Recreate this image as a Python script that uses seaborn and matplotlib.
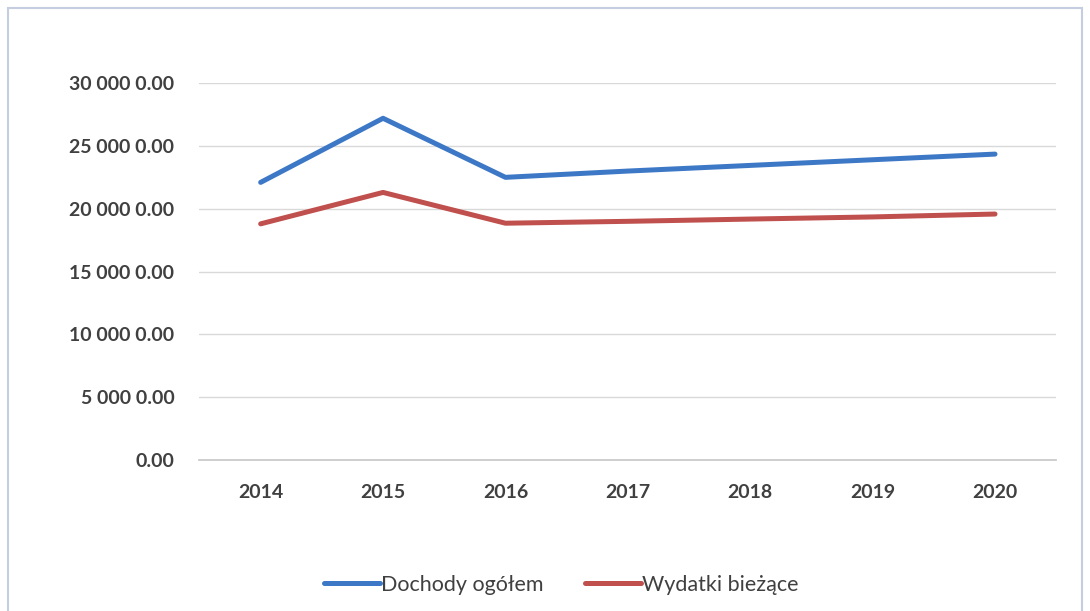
import matplotlib
matplotlib.use("Agg")
import matplotlib.pyplot as plt
import seaborn as sns
import pandas as pd
from matplotlib.patches import Rectangle
from matplotlib.lines import Line2D

years = ["2014", "2015", "2016", "2017", "2018", "2019", "2020"]
dochody = [221000, 272000, 225000, 230000, 234500, 239000, 243500]
wydatki = [188000, 213000, 188500, 190000, 191800, 193500, 195800]
series_names = ["Dochody ogółem", "Wydatki bieżące"]
ytick_vals = [0, 50000, 100000, 150000, 200000, 250000, 300000]
ytick_labels = ["0.00", "5 000 0.00", "10 000 0.00", "15 000 0.00",
                "20 000 0.00", "25 000 0.00", "30 000 0.00"]

df = pd.DataFrame({
    "Rok": years * 2,
    "Wartość": dochody + wydatki,
    "Seria": [series_names[0]] * len(years) + [series_names[1]] * len(years),
})

sns.set_theme(style="white")
plt.rcParams["font.family"] = ["Lato", "DejaVu Sans"]

fig = plt.figure(figsize=(10.9, 6.11), dpi=100)
fig.patch.set_facecolor("white")
ax = fig.add_axes([0.183, 0.247, 0.786, 0.617])

palette = {series_names[0]: "#3d78c6", series_names[1]: "#c0504d"}
sns.lineplot(data=df, x="Rok", y="Wartość", hue="Seria", palette=palette,
             linewidth=3.6, ax=ax, sort=False, legend=False,
             solid_capstyle="round", solid_joinstyle="round")

ax.set_xlim(-0.5, len(years) - 0.5)
ax.set_ylim(0, 300000)
ax.set_yticks(ytick_vals)
ax.set_yticklabels(ytick_labels)
ax.set_xlabel("")
ax.set_ylabel("")
ax.grid(axis="y", color="#d9d9d9", linewidth=1)
ax.grid(axis="x", visible=False)
for s in ["top", "right", "left"]:
    ax.spines[s].set_visible(False)
ax.spines["bottom"].set_color("#c8c8c8")
ax.tick_params(axis="y", length=0, pad=18, labelsize=14, labelcolor="#404040")
ax.tick_params(axis="x", length=0, pad=17, labelsize=14, labelcolor="#404040")
for t in ax.get_xticklabels() + ax.get_yticklabels():
    t.set_fontweight("bold")

handles = [Line2D([0], [0], color=palette[n], lw=3.6, solid_capstyle="round") for n in series_names]
fig.legend(handles, series_names, loc="center", bbox_to_anchor=(0.515, 1 - 585 / 611),
           ncol=2, frameon=False, fontsize=15.5, handlelength=2.6, handletextpad=0.05,
           columnspacing=1.9, labelcolor="#404040")

fig.patches.append(Rectangle((8 / 1090, -0.01), 1074 / 1090, 1 - 8 / 611 + 0.01,
                             transform=fig.transFigure, fill=False,
                             edgecolor="#c5cde0", linewidth=1.5))

fig.savefig("out.png", dpi=100)
